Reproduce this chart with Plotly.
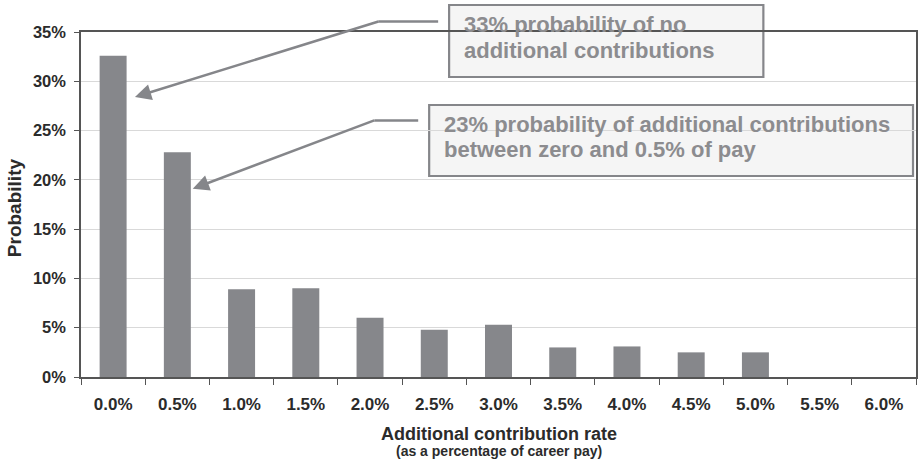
import plotly.graph_objects as go

categories = ["0.0%", "0.5%", "1.0%", "1.5%", "2.0%", "2.5%", "3.0%",
              "3.5%", "4.0%", "4.5%", "5.0%", "5.5%", "6.0%"]
probability = [32.6, 22.8, 8.9, 9.0, 6.0, 4.8, 5.3, 3.0, 3.1, 2.5, 2.5, 0.0, 0.0]
y_ticks = [0, 5, 10, 15, 20, 25, 30, 35]

W, H = 919, 463
L, R, T, B = 81, 1, 32, 86
PW, PH = W - L - R, H - T - B


def px(x):
    return (x - L) / PW


def py(y):
    return (T + PH - y) / PH


FONT = "Liberation Sans, Arial, sans-serif"
GREY_TXT = "#8c8c8f"
GREY_LINE = "#85868a"
DARK = "#2b2b2b"

fig = go.Figure()
fig.add_trace(go.Bar(
    x=categories, y=probability,
    marker=dict(color="#86878b", line=dict(width=0)),
    width=0.42,
))

shapes = [
    # callout boxes
    dict(type="rect", xref="paper", yref="paper", x0=px(450), x1=px(765), y0=py(77), y1=py(5),
         line=dict(color=GREY_LINE, width=2.2), fillcolor="#f5f5f5", layer="below"),
    dict(type="rect", xref="paper", yref="paper", x0=px(430), x1=px(915), y0=py(176), y1=py(105),
         line=dict(color=GREY_LINE, width=2.2), fillcolor="#f5f5f5", layer="below"),
    # horizontal leaders
    dict(type="line", xref="paper", yref="paper", x0=px(379), x1=px(439), y0=py(21.5), y1=py(21.5),
         line=dict(color=GREY_LINE, width=2.5)),
    dict(type="line", xref="paper", yref="paper", x0=px(375), x1=px(419), y0=py(120.5), y1=py(120.5),
         line=dict(color=GREY_LINE, width=2.5)),
]

annotations = [
    dict(x=0.34, y=28.4, xref="x", yref="y", text="", showarrow=True,
         ax=245, ay=-76, arrowhead=2, arrowsize=1.3, arrowwidth=2.5, arrowcolor=GREY_LINE),
    dict(x=1.24, y=19.1, xref="x", yref="y", text="", showarrow=True,
         ax=183, ay=-69, arrowhead=2, arrowsize=1.3, arrowwidth=2.5, arrowcolor=GREY_LINE),
]

box_lines = [
    ("33% probability of no", 463, 24.5),
    ("additional contributions", 463, 50),
    ("23% probability of additional contributions", 443, 124.5),
    ("between zero and 0.5% of pay", 443, 149.5),
]
for txt, x0, yc in box_lines:
    annotations.append(dict(
        x=px(x0), y=py(yc), xref="paper", yref="paper", xanchor="left", yanchor="middle",
        text=txt, showarrow=False,
        font=dict(family=FONT, size=22, color=GREY_TXT, weight="bold")))

annotations += [
    dict(x=0.5, y=py(434), xref="paper", yref="paper", xanchor="center", yanchor="middle",
         text="Additional contribution rate", showarrow=False,
         font=dict(family=FONT, size=18, color=DARK, weight="bold")),
    dict(x=0.5, y=py(451), xref="paper", yref="paper", xanchor="center", yanchor="middle",
         text="(as a percentage of career pay)", showarrow=False,
         font=dict(family=FONT, size=14, color=DARK, weight="bold")),
    dict(x=px(14), y=py(208), xref="paper", yref="paper", xanchor="center", yanchor="middle",
         text="Probability", showarrow=False, textangle=-90,
         font=dict(family=FONT, size=19, color=DARK, weight="bold")),
]

fig.update_layout(
    width=W, height=H,
    margin=dict(l=L, r=R, t=T, b=B),
    paper_bgcolor="white",
    plot_bgcolor="rgba(0,0,0,0)",
    showlegend=False,
    shapes=shapes,
    annotations=annotations,
    font=dict(family=FONT, color=DARK),
    xaxis=dict(
        type="category", categoryorder="array", categoryarray=categories,
        range=[-0.5, len(categories) - 0.5],
        tickson="boundaries", ticks="outside", ticklen=6, tickwidth=1.2, tickcolor="#555",
        showline=True, linecolor="#555", linewidth=1.5, mirror=True,
        showgrid=False,
        tickfont=dict(family=FONT, size=17, color=DARK, weight="bold"),
        ticklabelstandoff=11,
    ),
    yaxis=dict(
        range=[0, 35], tickvals=y_ticks, ticktext=[f"{v}%" for v in y_ticks],
        ticks="outside", ticklen=5, tickwidth=1.2, tickcolor="#555",
        showline=True, linecolor="#555", linewidth=1.5, mirror=True,
        showgrid=True, gridcolor="#d9d9d9", gridwidth=1,
        zeroline=False,
        tickfont=dict(family=FONT, size=16.5, color=DARK, weight="bold"),
        ticklabelstandoff=5,
    ),
)

fig.write_html(
    "out.html",
    config={"displayModeBar": False},
    post_script="document.body.style.margin='0';document.body.style.padding='0';",
)
